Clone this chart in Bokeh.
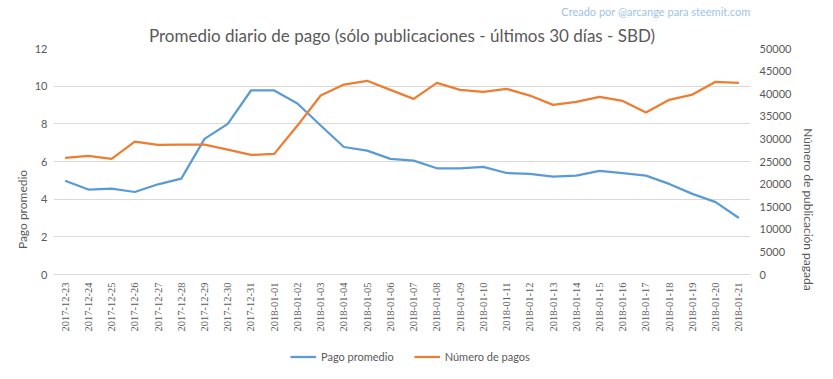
import math
from bokeh.plotting import figure
from bokeh.models import (Range1d, LinearAxis, Legend, LegendItem, Title, FactorRange,
                          FixedTicker, LabelSet, ColumnDataSource)
from bokeh.embed import file_html
from bokeh.resources import INLINE

dates = ["2017-12-23", "2017-12-24", "2017-12-25", "2017-12-26", "2017-12-27", "2017-12-28",
         "2017-12-29", "2017-12-30", "2017-12-31", "2018-01-01", "2018-01-02", "2018-01-03",
         "2018-01-04", "2018-01-05", "2018-01-06", "2018-01-07", "2018-01-08", "2018-01-09",
         "2018-01-10", "2018-01-11", "2018-01-12", "2018-01-13", "2018-01-14", "2018-01-15",
         "2018-01-16", "2018-01-17", "2018-01-18", "2018-01-19", "2018-01-20", "2018-01-21"]
pago_promedio = [4.98, 4.51, 4.56, 4.38, 4.79, 5.09, 7.2, 8.0, 9.77, 9.77, 9.08, 7.91,
                 6.77, 6.58, 6.14, 6.05, 5.64, 5.63, 5.71, 5.39, 5.34, 5.2, 5.25, 5.5,
                 5.38, 5.25, 4.81, 4.28, 3.84, 3.0]
numero_pagos = [25790, 26240, 25570, 29410, 28670, 28740, 28740, 27630, 26450, 26680, 32950, 39590,
                42030, 42850, 40840, 38860, 42400, 40840, 40400, 41070, 39590, 37530, 38200, 39300,
                38410, 35830, 38640, 39800, 42620, 42400]
left_ticks = [0, 2, 4, 6, 8, 10, 12]
right_ticks = [0, 5000, 10000, 15000, 20000, 25000, 30000, 35000, 40000, 45000, 50000]

FONT = "Lato"
GREY = "#595959"

# The frame extends below the value 0 so that the date labels and the legend sit inside it
PLOT_PX = 226          # pixels used by the 0..12 value band
FRAME_PX = 322         # full frame height
LEFT_MAX = 12
RIGHT_MAX = 50000
left_min = LEFT_MAX - LEFT_MAX * FRAME_PX / PLOT_PX
right_min = left_min * RIGHT_MAX / LEFT_MAX

p = figure(frame_width=697, frame_height=FRAME_PX, x_range=FactorRange(*dates, range_padding=0),
           y_range=Range1d(left_min, LEFT_MAX), output_backend="svg", toolbar_location=None,
           x_axis_location=None,
           min_border_left=53, min_border_right=67, min_border_top=0, min_border_bottom=0)
p.extra_y_ranges = {"n": Range1d(right_min, RIGHT_MAX)}
p.outline_line_color = None
p.background_fill_color = "white"
p.border_fill_color = "white"

l1 = p.line(dates, pago_promedio, line_color="#5b9bd5", line_width=2.25)
l2 = p.line(dates, numero_pagos, line_color="#ed7d31", line_width=2.25, y_range_name="n")

p.xgrid.grid_line_color = None
p.ygrid.ticker = FixedTicker(ticks=left_ticks)
p.ygrid.grid_line_color = "#d9d9d9"
p.ygrid.grid_line_width = 1
p.yaxis.ticker = FixedTicker(ticks=left_ticks)

def style_axis(ax):
    ax.axis_line_color = None
    ax.major_tick_line_color = None
    ax.minor_tick_line_color = None
    ax.major_tick_in = 0
    ax.major_tick_out = 0
    ax.minor_tick_in = 0
    ax.minor_tick_out = 0
    ax.major_label_text_font = FONT
    ax.major_label_text_font_size = "11px"
    ax.major_label_text_color = GREY
    ax.axis_label_text_font = FONT
    ax.axis_label_text_font_size = "12px"
    ax.axis_label_text_font_style = "normal"
    ax.axis_label_text_color = GREY

style_axis(p.yaxis[0])
p.yaxis[0].axis_label = "Pago promedio"
p.yaxis[0].major_label_standoff = 6
p.yaxis[0].axis_label_standoff = 2

ax2 = LinearAxis(y_range_name="n", ticker=FixedTicker(ticks=right_ticks),
                 axis_label="Número de publicación pagada")
style_axis(ax2)
ax2.major_label_standoff = 9
ax2.axis_label_standoff = 7
p.add_layout(ax2, "right")

# date tick labels, read bottom to top, hanging below the zero line
date_src = ColumnDataSource(dict(fecha=dates))
p.add_layout(LabelSet(x="fecha", y=0, text="fecha", source=date_src, angle=math.pi / 2,
                      text_align="right", text_baseline="middle", y_offset=-8,
                      text_font=FONT, text_font_size="10.5px", text_color=GREY))

legend = Legend(items=[LegendItem(label="Pago promedio", renderers=[l1]),
                       LegendItem(label="Número de pagos", renderers=[l2])],
                orientation="horizontal", location=(237, 7),
                label_text_font=FONT, label_text_font_size="11px", label_text_color=GREY,
                border_line_color=None, background_fill_alpha=0,
                glyph_width=26, glyph_height=13, label_height=13,
                spacing=20, margin=0, padding=2)
p.add_layout(legend, "center")

p.add_layout(Title(text="Promedio diario de pago (sólo publicaciones - últimos 30 días - SBD)",
                   align="center", text_font=FONT, text_font_size="17px",
                   text_font_style="normal", text_color=GREY, offset=24, standoff=6), "above")
p.add_layout(Title(text="Creado por @arcange para steemit.com", align="right",
                   text_font=FONT, text_font_size="11px", text_font_style="normal",
                   text_color="#9dc3e6", standoff=4), "above")

open("out.html", "w").write(file_html(p, INLINE))
